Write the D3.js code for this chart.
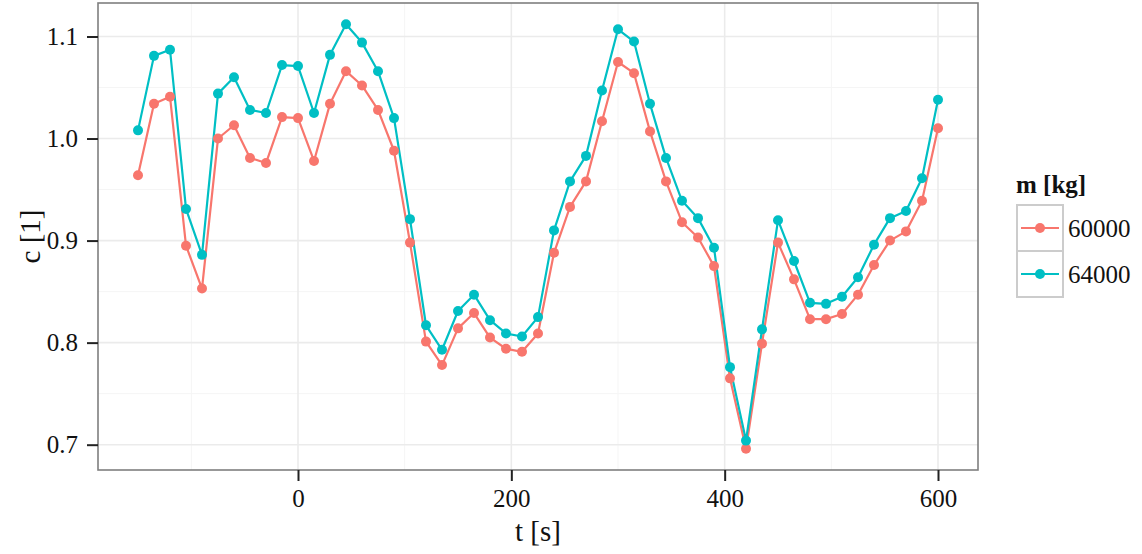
<!DOCTYPE html>
<html><head><meta charset="utf-8">
<script src="https://cdn.jsdelivr.net/npm/d3@7"></script>
<style>
body{margin:0;background:#fff;}
svg text{font-family:"Liberation Serif","Times New Roman",serif !important;}
</style>
</head><body>
<svg id="chart" width="1142" height="554" font-family="Liberation Serif"></svg>
<script>
const times = [-150,-135,-120,-105,-90,-75,-60,-45,-30,-15,0,15,30,45,60,75,90,105,120,135,150,165,180,195,210,225,240,255,270,285,300,315,330,345,360,375,390,405,420,435,450,465,480,495,510,525,540,555,570,585,600];
const c60000 = [0.964,1.034,1.041,0.895,0.853,1.000,1.013,0.981,0.976,1.021,1.020,0.978,1.034,1.066,1.052,1.028,0.988,0.898,0.801,0.778,0.814,0.829,0.805,0.794,0.791,0.809,0.888,0.933,0.958,1.017,1.075,1.064,1.007,0.958,0.918,0.903,0.875,0.765,0.696,0.799,0.898,0.862,0.823,0.823,0.828,0.847,0.876,0.900,0.909,0.939,1.010];
const c64000 = [1.008,1.081,1.087,0.931,0.886,1.044,1.060,1.028,1.025,1.072,1.071,1.025,1.082,1.112,1.094,1.066,1.020,0.921,0.817,0.793,0.831,0.847,0.822,0.809,0.806,0.825,0.910,0.958,0.983,1.047,1.107,1.095,1.034,0.981,0.939,0.922,0.893,0.776,0.704,0.813,0.920,0.880,0.839,0.838,0.845,0.864,0.896,0.922,0.929,0.961,1.038];
const seriesNames = ["60000","64000"];
const seriesColors = ["#F8766D","#00BFC4"];
const xTicks = [0,200,400,600];
const xMinor = [-100,100,300,500];
const yTicks = [0.7,0.8,0.9,1.0,1.1];
const yMinor = [0.75,0.85,0.95,1.05];
const xTitle = "t [s]", yTitle = "c [1]", legendTitle = "m [kg]";

const FONT = "Liberation Serif, Times New Roman, serif";
const series = [c60000, c64000].map((vals,i)=>({name:seriesNames[i], color:seriesColors[i], pts:times.map((t,j)=>({t, v:vals[j]}))}));

const svg = d3.select("#chart");
const L=98, R=978, T=3, B=470;
const allV = c60000.concat(c64000);
const vmin=d3.min(allV), vmax=d3.max(allV);
const tmin=d3.min(times), tmax=d3.max(times);
const ex=(tmax-tmin)*0.05, ey=(vmax-vmin)*0.05;
const x = d3.scaleLinear().domain([tmin-ex, tmax+ex]).range([L,R]);
const y = d3.scaleLinear().domain([vmin-ey, vmax+ey]).range([B,T]);

const g = svg.append("g");
g.append("rect").attr("x",L).attr("y",T).attr("width",R-L).attr("height",B-T).attr("fill","#fff");
g.selectAll(".xm").data(xMinor).enter().append("line").attr("x1",d=>x(d)).attr("x2",d=>x(d)).attr("y1",T).attr("y2",B).attr("stroke","#f5f5f5").attr("stroke-width",1);
g.selectAll(".ym").data(yMinor).enter().append("line").attr("y1",d=>y(d)).attr("y2",d=>y(d)).attr("x1",L).attr("x2",R).attr("stroke","#f5f5f5").attr("stroke-width",1);
g.selectAll(".xM").data(xTicks).enter().append("line").attr("x1",d=>x(d)).attr("x2",d=>x(d)).attr("y1",T).attr("y2",B).attr("stroke","#ebebeb").attr("stroke-width",1.6);
g.selectAll(".yM").data(yTicks).enter().append("line").attr("y1",d=>y(d)).attr("y2",d=>y(d)).attr("x1",L).attr("x2",R).attr("stroke","#ebebeb").attr("stroke-width",1.6);

const line = d3.line().x(d=>x(d.t)).y(d=>y(d.v));
series.forEach(s=>{
  g.append("path").datum(s.pts).attr("d",line).attr("fill","none").attr("stroke",s.color).attr("stroke-width",2.2).attr("stroke-linejoin","round");
});
series.forEach(s=>{
  g.selectAll(null).data(s.pts).enter().append("circle").attr("cx",d=>x(d.t)).attr("cy",d=>y(d.v)).attr("r",5).attr("fill",s.color);
});
g.append("rect").attr("x",L).attr("y",T).attr("width",R-L).attr("height",B-T).attr("fill","none").attr("stroke","#7f7f7f").attr("stroke-width",1.6);

const xAxis = svg.append("g").attr("transform",`translate(0,${B})`).call(d3.axisBottom(x).tickValues(xTicks).tickFormat(d3.format("d")).tickSize(11).tickPadding(8));
const yAxis = svg.append("g").attr("transform",`translate(${L},0)`).call(d3.axisLeft(y).tickValues(yTicks).tickFormat(d3.format(".1f")).tickSize(11).tickPadding(9));
[xAxis,yAxis].forEach(a=>{
  a.attr("font-family",FONT);
  a.select(".domain").remove();
  a.selectAll(".tick line").attr("stroke","#222").attr("stroke-width",2);
  a.selectAll(".tick text").attr("fill","#111").style("font-size","25px").style("font-family",FONT);
});
xAxis.selectAll(".tick text").attr("dy","0.72em");

svg.append("text").attr("x",(L+R)/2).attr("y",541).attr("text-anchor","middle").style("font-size","29px").style("font-family",FONT).attr("fill","#111").text(xTitle);
svg.append("text").attr("transform",`translate(40,${(T+B)/2}) rotate(-90)`).attr("text-anchor","middle").style("font-size","29px").style("font-family",FONT).attr("fill","#111").text(yTitle);

const lg = svg.append("g");
lg.append("text").attr("x",1016).attr("y",193).style("font-size","25px").style("font-weight","bold").style("font-family",FONT).attr("fill","#111").text(legendTitle);
const kx=1017, kw=46, kh=46, ky0=205;
series.forEach((s,i)=>{
  const ky = ky0 + i*kh;
  lg.append("rect").attr("x",kx).attr("y",ky).attr("width",kw).attr("height",kh).attr("fill","#fff").attr("stroke","#cccccc").attr("stroke-width",2);
  lg.append("line").attr("x1",kx+4).attr("x2",kx+kw-4).attr("y1",ky+kh/2).attr("y2",ky+kh/2).attr("stroke",s.color).attr("stroke-width",2.2);
  lg.append("circle").attr("cx",kx+kw/2).attr("cy",ky+kh/2).attr("r",5).attr("fill",s.color);
  lg.append("text").attr("x",1068).attr("y",ky+kh/2).attr("dy","0.35em").style("font-size","25px").style("font-family",FONT).attr("fill","#111").text(s.name);
});
</script>
</body></html>
